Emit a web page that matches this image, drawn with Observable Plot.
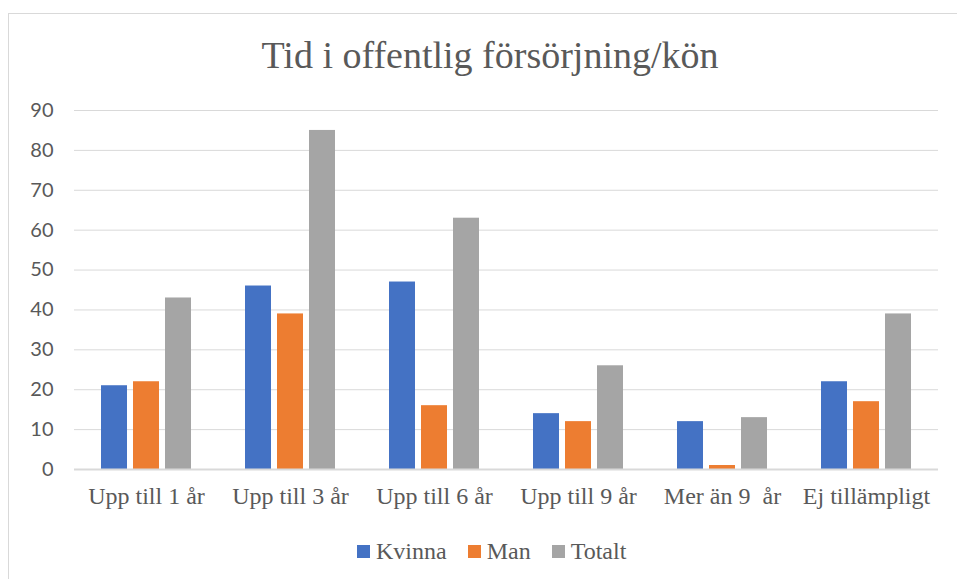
<!DOCTYPE html>
<html>
<head>
<meta charset="utf-8">
<script src="https://cdn.jsdelivr.net/npm/d3@7"></script>
<script src="https://cdn.jsdelivr.net/npm/@observablehq/plot@0.6"></script>
<style>
  html, body { margin: 0; padding: 0; background: #fff; }
  #wrap { position: relative; width: 957px; height: 579px; overflow: hidden; background: #fff; }
  #frame { position: absolute; left: 8px; top: 13px; width: 1000px; height: 700px; border: 1px solid #d9d9d9; box-sizing: border-box; }
  #title { position: absolute; left: 0; top: 36px; width: 980px; text-align: center; font-family: "Liberation Serif", serif; font-size: 38px; color: #595959; line-height: 1; }
  #chart { position: absolute; left: 0; top: 90px; }
  #legend { position: absolute; left: 357px; top: 539px; display: flex; align-items: center; font-family: "Liberation Serif", serif; font-size: 24px; color: #595959; line-height: 1; }
  #legend span { font-family: "Liberation Serif", serif; }
  .item { display: flex; align-items: center; margin-right: 21px; }
  .sw { width: 13px; height: 13px; margin-right: 6px; }
</style>
</head>
<body>
<div id="wrap">
  <div id="frame"></div>
  <div id="title">Tid i offentlig försörjning/kön</div>
  <div id="chart"></div>
  <div id="legend"></div>
</div>
<script>
const categories = ["Upp till 1 år", "Upp till 3 år", "Upp till 6 år", "Upp till 9 år", "Mer än 9  år", "Ej tillämpligt"];
const seriesNames = ["Kvinna", "Man", "Totalt"];
const seriesColors = ["#4472C4", "#ED7D31", "#A5A5A5"];
const kvinna = [21, 46, 47, 14, 12, 22];
const man = [22, 39, 16, 12, 1, 17];
const totalt = [43, 85, 63, 26, 13, 39];
const yTicks = [0, 10, 20, 30, 40, 50, 60, 70, 80, 90];

const seriesValues = [kvinna, man, totalt];
const data = [];
categories.forEach((c, i) => {
  seriesNames.forEach((s, j) => data.push({category: c, series: s, value: seriesValues[j][i]}));
});

const chart = Plot.plot({
  width: 957,
  height: 435,
  marginTop: 20,
  marginBottom: 56,
  marginLeft: 71,
  marginRight: 17,
  style: {fontFamily: "Lato, sans-serif", color: "#595959", background: "transparent"},
  fx: {domain: categories, padding: 0, label: null},
  x: {domain: seriesNames, paddingInner: 0.2, paddingOuter: 0.82, axis: null},
  y: {domain: [0, 90], ticks: yTicks, label: null},
  color: {domain: seriesNames, range: seriesColors},
  marks: [
    Plot.gridY(yTicks, {stroke: "#d9d9d9", strokeOpacity: 1}),
    Plot.axisY(yTicks, {tickSize: 0, tickPadding: 21, fontSize: 20, fill: "#595959", label: null, fontFamily: "Lato, sans-serif"}),
    Plot.axisFx({tickSize: 0, tickPadding: 17, fontSize: 24, fill: "#595959", label: null, fontFamily: "Liberation Serif, serif", anchor: "bottom"}),
    Plot.barY(data, {fx: "category", x: "series", y: "value", fill: "series"}),
    Plot.ruleY([0], {stroke: "#d9d9d9", strokeWidth: 2})
  ]
});
document.getElementById("chart").appendChild(chart);

const legend = document.getElementById("legend");
seriesNames.forEach((s, i) => {
  const item = document.createElement("div");
  item.className = "item";
  const sw = document.createElement("div");
  sw.className = "sw";
  sw.style.background = seriesColors[i];
  const t = document.createElement("span");
  t.textContent = s;
  item.appendChild(sw);
  item.appendChild(t);
  legend.appendChild(item);
});
</script>
</body>
</html>
